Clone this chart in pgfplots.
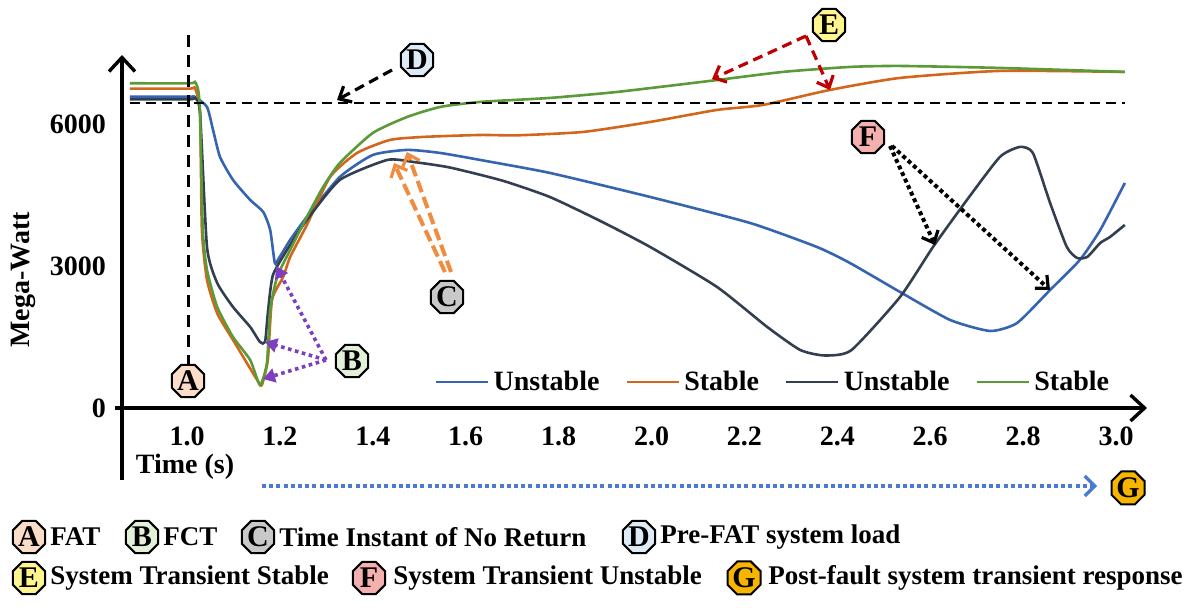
\documentclass[border=0pt]{standalone}
\usepackage{fontspec}
\setmainfont{Liberation Serif}
\usepackage{pgfplots}
\pgfplotsset{compat=1.18}
\usetikzlibrary{arrows.meta,shapes.geometric}
\definecolor{cblue}{HTML}{3564B0}
\definecolor{corange}{HTML}{D4661C}
\definecolor{cnavy}{HTML}{333F50}
\definecolor{cgreen}{HTML}{5A9A38}
\definecolor{bA}{HTML}{FBDCC8}
\definecolor{bB}{HTML}{E2F0D9}
\definecolor{bC}{HTML}{C9C9C9}
\definecolor{bD}{HTML}{DEEBF7}
\definecolor{bE}{HTML}{FFF58F}
\definecolor{bF}{HTML}{F4AFAF}
\definecolor{bG}{HTML}{F7B500}
\definecolor{cpurple}{HTML}{7E3FBF}
\definecolor{cred}{HTML}{C00000}
\definecolor{corarrow}{HTML}{F08C40}
\definecolor{cdot}{HTML}{4A7BD0}
\tikzset{badge/.style={regular polygon, regular polygon sides=8, draw=black, line width=1pt, minimum size=17.5pt, inner sep=0pt, font=\bfseries\fontsize{15}{15}\selectfont, fill=#1},
 btxt/.style={anchor=west, inner sep=0pt, font=\bfseries\fontsize{13.5}{14}\selectfont}}

\pgfplotstableread{
x y
0.877 6578
1.006 6578
1.017 6571
1.043 6360
1.056 5874
1.071 5304
1.099 4818
1.136 4395
1.164 4142
1.179 3761
1.189 3064
1.197 3150
1.222 3550
1.258 4036
1.329 4881
1.400 5346
1.474 5452
1.545 5388
1.631 5240
1.781 4966
1.997 4458
2.212 3909
2.356 3402
2.427 3064
2.535 2451
2.643 1859
2.729 1627
2.787 1796
2.858 2493
2.922 3127
2.966 3761
3.019 4754
}\blue

\pgfplotstableread{
x y
0.877 6746
1.006 6746
1.017 6762
1.028 6233
1.032 3761
1.043 2705
1.065 2000
1.099 1437
1.151 592
1.161 486
1.174 1014
1.183 2282
1.207 2768
1.222 3190
1.258 3867
1.308 4881
1.366 5388
1.437 5663
1.508 5726
1.631 5768
1.710 5760
1.853 5832
1.997 6043
2.141 6297
2.240 6402
2.384 6719
2.535 6973
2.750 7121
3.019 7100
}\orange

\pgfplotstableread{
x y
0.877 6520
1.006 6520
1.017 6550
1.028 6233
1.043 3402
1.065 2641
1.099 2134
1.136 1712
1.157 1395
1.168 1395
1.174 2007
1.185 2810
1.222 3444
1.258 3972
1.329 4818
1.431 5240
1.487 5198
1.566 5080
1.680 4800
1.781 4458
1.890 3950
1.997 3402
2.141 2557
2.249 1712
2.320 1226
2.372 1110
2.430 1220
2.535 2345
2.606 3402
2.679 4395
2.750 5304
2.793 5515
2.821 5388
2.858 4332
2.894 3402
2.916 3170
2.938 3191
2.966 3486
2.987 3613
3.019 3867
}\navy

\pgfplotstableread{
x y
0.877 6860
1.006 6860
1.017 6889
1.024 6719
1.028 6233
1.034 3761
1.043 2916
1.065 2134
1.099 1500
1.136 1014
1.157 486
1.172 951
1.179 2071
1.194 2768
1.222 3339
1.258 4036
1.293 4670
1.329 5177
1.400 5811
1.474 6149
1.545 6360
1.631 6466
1.781 6550
1.926 6677
2.126 6910
2.283 7100
2.427 7205
2.535 7226
2.750 7184
3.019 7100
}\green

\begin{document}
\begin{tikzpicture}
\begin{scope}[x=0.5pt,y=-0.5pt]
\useasboundingbox (0,0) rectangle (1185,613);
\end{scope}
\begin{axis}[
 at={(61pt,-204pt)}, anchor=south west,
 scale only axis, width=510.95pt, height=175pt,
 xmin=0.86, xmax=3.06, ymin=0, ymax=7394,
 axis line style={draw=none},
 major tick length=0pt, tick style={draw=none},
 xtick={1.0,1.2,1.4,1.6,1.8,2.0,2.2,2.4,2.6,2.8,3.0},
 xticklabels={1.0,1.2,1.4,1.6,1.8,2.0,2.2,2.4,2.6,2.8,3.0},
 ytick={0,3000,6000}, yticklabels={0,3000,6000},
 ticklabel style={font=\bfseries\fontsize{14}{14}\selectfont},
 xticklabel style={yshift=-6pt},
 yticklabel style={xshift=-4.5pt},
 clip=false,
 legend columns=4,
 legend style={at={(0.638,0.074)}, anchor=center, draw=none, fill=none,
   font=\bfseries\fontsize{14}{14}\selectfont,
   /tikz/every even column/.append style={column sep=11pt}},
 legend image code/.code={\draw[#1,line width=1.4pt] (0pt,0pt) -- (26pt,0pt);},
 every axis plot/.append style={line width=1.3pt, smooth, tension=0.35},
]
\addplot[cblue] table[x=x,y=y]{\blue};
\addlegendentry{Unstable}
\addplot[corange] table[x=x,y=y]{\orange};
\addlegendentry{Stable}
\addplot[cnavy] table[x=x,y=y]{\navy};
\addlegendentry{Unstable}
\addplot[cgreen] table[x=x,y=y]{\green};
\addlegendentry{Stable}
\addplot[black, line width=1.3pt, dash pattern=on 5pt off 3pt, sharp plot, forget plot] coordinates {(0.877,6444) (3.019,6444)};
\end{axis}
\begin{scope}[x=0.5pt,y=-0.5pt]
% axes
\draw[line width=1.7pt, -{Straight Barb[length=7pt,width=13pt,line width=1.7pt]}] (115,408) -- (1147,408);
\draw[line width=1.7pt, -{Straight Barb[length=7pt,width=13pt,line width=1.7pt]}] (122,480) -- (122,55);
\draw[line width=1.5pt, dash pattern=on 6pt off 4pt] (188,35) -- (188,365);
% D arrow
\draw[line width=1.6pt, dash pattern=on 5pt off 3pt, -{Straight Barb[length=5pt,width=9pt,line width=1.6pt]}] (392,70) -- (337,100);
% E arrows
\draw[cred, line width=1.6pt, dash pattern=on 5pt off 3pt, -{Straight Barb[length=5pt,width=9pt,line width=1.6pt]}] (806,36) -- (712,79);
\draw[cred, line width=1.6pt, dash pattern=on 5pt off 3pt, -{Straight Barb[length=5pt,width=9pt,line width=1.6pt]}] (806,36) -- (830,90);
% F arrows
\draw[black, line width=2pt, dash pattern=on 2pt off 1.6pt, -{Straight Barb[length=5pt,width=9pt,line width=1.6pt]}] (890,146) -- (935,245);
\draw[black, line width=2pt, dash pattern=on 2pt off 1.6pt, -{Straight Barb[length=5pt,width=9pt,line width=1.6pt]}] (892,146) -- (1050,290);
% C arrows
\draw[corarrow, line width=2pt, dash pattern=on 6pt off 2.5pt, -{Straight Barb[length=5pt,width=9pt,line width=1.6pt]}] (445,272) -- (394,163);
\draw[corarrow, line width=2pt, dash pattern=on 6pt off 2.5pt, -{Straight Barb[length=5pt,width=9pt,line width=1.6pt]}] (451,272) -- (407,152);
% B arrows
\draw[cpurple, line width=1.8pt, dash pattern=on 1.8pt off 1.8pt, -{Triangle[length=6pt,width=7pt]}] (326,360) -- (276,266);
\draw[cpurple, line width=1.8pt, dash pattern=on 1.8pt off 1.8pt, -{Triangle[length=6pt,width=7pt]}] (326,360) -- (265,342);
\draw[cpurple, line width=1.8pt, dash pattern=on 1.8pt off 1.8pt, -{Triangle[length=6pt,width=7pt]}] (326,360) -- (263,379);
% G arrow
\draw[cdot, line width=2pt, dash pattern=on 2pt off 1.6pt, -{Straight Barb[length=5pt,width=10pt,line width=1.6pt]}] (262,486) -- (1097,486);
% badges on chart
\node[badge=bA] at (188,381) {A};
\node[badge=bB] at (352,361) {B};
\node[badge=bC] at (447,297) {C};
\node[badge=bD] at (417,60) {D};
\node[badge=bE] at (829,25) {E};
\node[badge=bF] at (868,137) {F};
\node[badge=bG] at (1128,488) {G};
% axis titles
\node[font=\bfseries\fontsize{14}{14}\selectfont, inner sep=0pt] at (185,467) {Time (s)};
\node[font=\bfseries\fontsize{14}{14}\selectfont, inner sep=0pt, rotate=90] at (23,280) {Mega-Watt};
% bottom key
\node[badge=bA] at (29,537) {A};
\node[btxt] at (50,537) {FAT};
\node[badge=bB] at (142,537) {B};
\node[btxt] at (163,537) {FCT};
\node[badge=bC] at (258,537) {C};
\node[btxt] at (279,537) {Time Instant of No Return};
\node[badge=bD] at (639,537) {D};
\node[btxt] at (660,537) {Pre-FAT system load};
\node[badge=bE] at (29,578) {E};
\node[btxt] at (50,578) {System Transient Stable};
\node[badge=bF] at (369,578) {F};
\node[btxt] at (393,578) {System Transient Unstable};
\node[badge=bG] at (744,578) {G};
\node[btxt] at (768,578) {Post-fault system transient response};
\end{scope}
\end{tikzpicture}
\end{document}
